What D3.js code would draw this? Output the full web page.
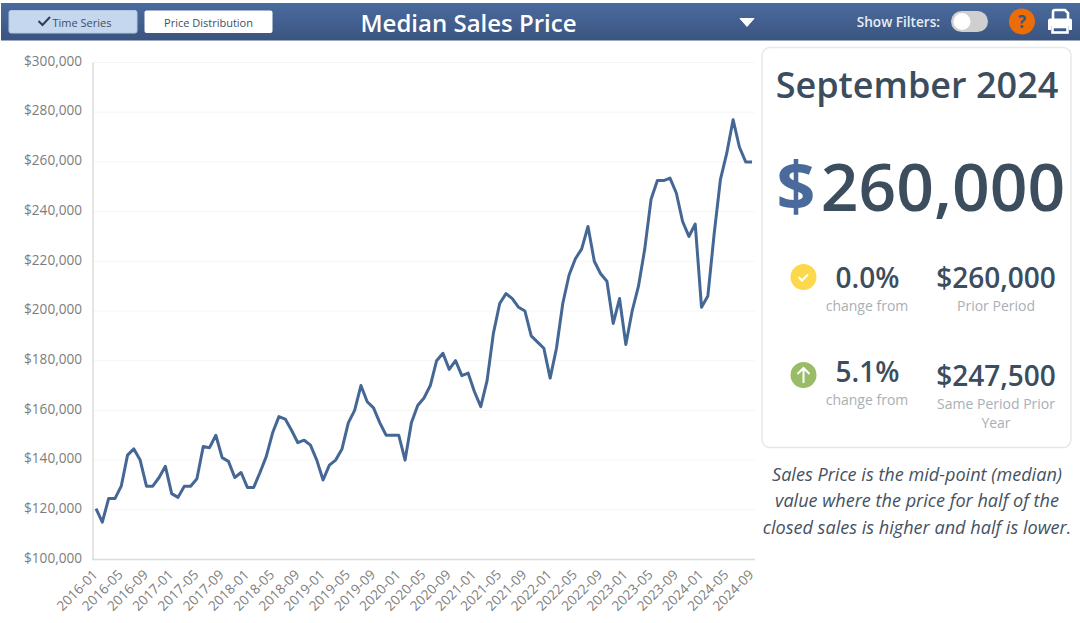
<!DOCTYPE html>
<html>
<head>
<meta charset="utf-8">
<script src="https://cdn.jsdelivr.net/npm/d3@7"></script>
<style>
  html, body { margin: 0; padding: 0; background: #fff; }
  svg { display: block; font-family: "Open Sans", sans-serif; }
  .axis-y .domain, .axis-x .domain { stroke: #dcdcdc; stroke-width: 1.5; }
  .axis-y text, .axis-x text { fill: #7d7d7d; font-size: 13.6px; font-family: "Open Sans", sans-serif; }
  .axis-x .tick line, .axis-y .tick line { display: none; }
  .grid line { stroke: #f5f5f5; stroke-width: 1; }
</style>
</head>
<body>
<div class="chart"></div>
<script>
// median price in $ thousands, one row per year
var y2016 = [120.5, 115, 124.5, 124.5, 129.5, 142, 144.5, 140, 129.5, 129.5, 133, 137.5];
var y2017 = [126.5, 125, 129.5, 129.5, 132.5, 145.5, 145, 150, 141, 139.5, 133, 135];
var y2018 = [129, 129, 135, 141.5, 151, 157.5, 156.5, 152, 147, 148, 146, 140];
var y2019 = [132, 138, 140, 144.5, 155, 160, 170, 163.5, 161, 155, 150, 150];
var y2020 = [150, 140, 155, 162, 165, 170, 180, 183, 176.5, 180, 174, 175];
var y2021 = [167.5, 161.5, 172, 191, 203, 207, 205, 201.5, 200, 190, 187.5, 185];
var y2022 = [173, 185, 203, 214.5, 221, 225, 234, 220, 215, 212, 195, 205];
var y2023 = [186.5, 200, 210, 225, 245, 252.5, 252.5, 253.5, 247.5, 236, 230, 235];
var y2024 = [201.5, 206, 231, 253, 263.5, 277, 266, 260, 260];

var years = [2016, 2017, 2018, 2019, 2020, 2021, 2022, 2023, 2024];
var yearValues = [y2016, y2017, y2018, y2019, y2020, y2021, y2022, y2023, y2024];
var yTicks = [100, 120, 140, 160, 180, 200, 220, 240, 260, 280, 300];

var noteLines = ["Sales Price is the mid-point (median)", "value where the price for half of the", "closed sales is higher and half is lower."];

// flatten into month rows
var rows = [];
yearValues.forEach(function (vals, i) {
    vals.forEach(function (v, m) {
        rows.push({ month: years[i] + "-" + String(m + 1).padStart(2, "0"), value: v });
    });
});

var svg = d3.select(".chart").append("svg")
    .attr("width", 1080)
    .attr("height", 623);

// header bar
var defs = svg.append("defs");
var grad = defs.append("linearGradient")
    .attr("id", "bar").attr("x1", 0).attr("x2", 0).attr("y1", 0).attr("y2", 1);
grad.append("stop").attr("offset", "0%").attr("stop-color", "#4a6b9e");
grad.append("stop").attr("offset", "100%").attr("stop-color", "#3b5480");

svg.append("rect").attr("x", 1).attr("y", 3).attr("width", 1079).attr("height", 37.5).attr("fill", "url(#bar)");

svg.append("rect").attr("x", 9).attr("y", 10.5).attr("width", 128).attr("height", 22.5).attr("rx", 2)
    .attr("fill", "#c4d7ef").attr("stroke", "#b3c7e2");
svg.append("path").attr("d", "M38.5 21 l4 4 l7.5 -8").attr("fill", "none").attr("stroke", "#2f3d4c").attr("stroke-width", 2);
svg.append("text").attr("x", 82).attr("y", 26.5).attr("text-anchor", "middle")
    .attr("font-size", 11).attr("fill", "#3d4f5f").text("Time Series");

svg.append("rect").attr("x", 144.5).attr("y", 10.5).attr("width", 128).attr("height", 22.5).attr("rx", 2).attr("fill", "#fff");
svg.append("text").attr("x", 208.5).attr("y", 26.5).attr("text-anchor", "middle")
    .attr("font-size", 11).attr("fill", "#3d4f5f").text("Price Distribution");

svg.append("text").attr("x", 468.5).attr("y", 31.5).attr("text-anchor", "middle")
    .attr("font-size", 24).attr("font-weight", 600).attr("fill", "#fff").text("Median Sales Price");

svg.append("path").attr("d", "M740 18.5 h14 l-7 8 z").attr("fill", "#fff").attr("stroke", "#fff").attr("stroke-linejoin", "round");

svg.append("text").attr("x", 940).attr("y", 26.5).attr("text-anchor", "end")
    .attr("font-size", 13.6).attr("font-weight", 600).attr("fill", "#e8edf4").text("Show Filters:");
svg.append("rect").attr("x", 951).attr("y", 11).attr("width", 37).attr("height", 21).attr("rx", 10.5).attr("fill", "#cfcfcf");
svg.append("circle").attr("cx", 962).attr("cy", 21.5).attr("r", 8.5).attr("fill", "#fff");

svg.append("circle").attr("cx", 1022).attr("cy", 21.5).attr("r", 13).attr("fill", "#ec6c08");
svg.append("text").attr("x", 1022).attr("y", 27.5).attr("text-anchor", "middle")
    .attr("font-size", 17).attr("font-weight", 700).attr("fill", "#3b5480").text("?");

// printer icon
var printer = svg.append("g").attr("fill", "#fff");
printer.append("path").attr("d", "M1053 19 v-7 q0 -2 2 -2 h10 l3 3 v6").attr("fill", "none").attr("stroke", "#fff").attr("stroke-width", 2.6);
printer.append("path").attr("d", "M1050 18.5 h20 q2 0 2 2 v9.500 h-3 v-4 h-18 v4 h-3 v-9.500 q0 -2 2 -2 z");
printer.append("rect").attr("x", 1052.5).attr("y", 27).attr("width", 15).attr("height", 5.500).attr("fill", "none").attr("stroke", "#fff").attr("stroke-width", 2.6);

// chart
var x = d3.scalePoint()
    .domain(rows.map(function (d) { return d.month; }))
    .range([96, 752]);

var y = d3.scaleLinear()
    .domain([100, 300])
    .range([559.5, 62.5]);

var money = function (d) { return "$" + d3.format(",")(d * 1000); };

svg.append("g").attr("class", "grid")
    .selectAll("line")
    .data(yTicks.slice(1))
    .enter().append("line")
    .attr("x1", 93).attr("x2", 755)
    .attr("y1", function (d) { return y(d); })
    .attr("y2", function (d) { return y(d); });

svg.append("g")
    .attr("class", "axis-y")
    .attr("transform", "translate(93,0)")
    .call(d3.axisLeft(y).tickValues(yTicks).tickFormat(money).tickSize(0).tickPadding(11))
    .call(function (g) {
        g.select(".domain").attr("d", "M0 62.5 V559.5");
        g.selectAll("text").attr("dy", "0.2em");
    });

var xLabels = x.domain().filter(function (d, i) { return i % 4 === 0; });

svg.append("g")
    .attr("class", "axis-x")
    .attr("transform", "translate(0,559.5)")
    .call(d3.axisBottom(x).tickValues(xLabels).tickSize(0))
    .call(function (g) {
        g.select(".domain").attr("d", "M92 0 H755");
        g.selectAll("text")
            .attr("text-anchor", "end")
            .attr("dx", "0").attr("dy", "0")
            .attr("transform", "translate(0,14) rotate(-45)");
    });

var line = d3.line()
    .x(function (d) { return x(d.month); })
    .y(function (d) { return y(d.value); });

svg.append("path")
    .datum(rows)
    .attr("fill", "none")
    .attr("stroke", "#456795")
    .attr("stroke-width", 3)
    .attr("stroke-linejoin", "round")
    .attr("d", line);

// summary card
svg.append("rect").attr("x", 762).attr("y", 47.5).attr("width", 309).attr("height", 400).attr("rx", 8)
    .attr("fill", "#fff").attr("stroke", "#e8e8e8").attr("stroke-width", 1.5);

var dark = "#3c4d5e", muted = "#a9afb6";

function label(px, py, str, size, color, weight, style) {
    return svg.append("text").attr("x", px).attr("y", py).attr("text-anchor", "middle")
        .attr("font-size", size).attr("fill", color)
        .attr("font-weight", weight || 400).attr("font-style", style || "normal").text(str);
}

label(917, 98, "September 2024", 36, dark, 600);
label(796, 211, "$", 68, "#4a6a9c", 700);
label(943, 211, "260,000", 66, dark, 600);

svg.append("circle").attr("cx", 803.5).attr("cy", 277).attr("r", 13).attr("fill", "#fcd94c");
svg.append("path").attr("d", "M798.500 277 l3.500 3.500 l6 -6").attr("fill", "none").attr("stroke", "#fff").attr("stroke-width", 2);
label(867.5, 288, "0.0%", 28, dark, 600);
label(867, 311, "change from", 14, muted);
label(996, 288, "$260,000", 28, dark, 600);
label(996, 311, "Prior Period", 14, muted);

svg.append("circle").attr("cx", 803.5).attr("cy", 375).attr("r", 13).attr("fill", "#9bbc66");
svg.append("path").attr("d", "M803.500 383 v-15 M797.500 374 l6 -6 l6 6").attr("fill", "none").attr("stroke", "#fff").attr("stroke-width", 2);
label(867.5, 382, "5.1%", 28, dark, 600);
label(867, 405, "change from", 14, muted);
label(996, 386, "$247,500", 28, dark, 600);
label(996, 409, "Same Period Prior", 14, muted);
label(996, 428, "Year", 14, muted);

noteLines.forEach(function (t, i) {
    label(917, 480.5 + i * 26.5, t, 18.1, "#45525f", 400, "italic");
});
</script>
</body>
</html>
